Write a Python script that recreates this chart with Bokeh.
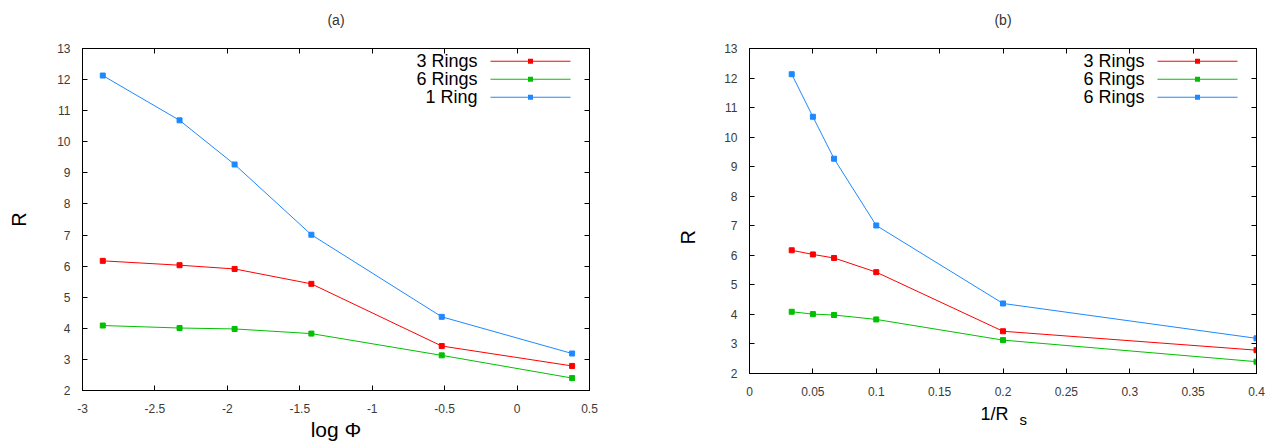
from bokeh.plotting import figure
from bokeh.layouts import row
from bokeh.models import Range1d, FixedTicker, LinearAxis, Label, BoxAnnotation, Title
from bokeh.embed import file_html
from bokeh.resources import INLINE

# ---- data ----
log_phi = [-2.86, -2.33, -1.95, -1.42, -0.52, 0.38]
inv_rs = [0.0333, 0.05, 0.0667, 0.1, 0.2, 0.4]
r_3rings = [6.17, 6.03, 5.91, 5.43, 3.43, 2.79]
r_6rings = [4.09, 4.01, 3.98, 3.83, 3.13, 2.40]
r_1ring = [12.13, 10.69, 9.27, 7.01, 4.37, 3.19]

names_a = ["3 Rings", "6 Rings", "1 Ring"]
names_b = ["3 Rings", "6 Rings", "6 Rings"]

xticks_a = [-3, -2.5, -2, -1.5, -1, -0.5, 0, 0.5]
xlabels_a = ["-3", "-2.5", "-2", "-1.5", "-1", "-0.5", "0", "0.5"]
xticks_b = [0, 0.05, 0.1, 0.15, 0.2, 0.25, 0.3, 0.35, 0.4]
xlabels_b = ["0", "0.05", "0.1", "0.15", "0.2", "0.25", "0.3", "0.35", "0.4"]
yticks = list(range(2, 14))

colors = ["#ff0000", "#00c000", "#1e88ff"]
FONT = "Liberation Sans"
FW = 507


def style_axis(ax, ticks, labels=None, show=True, standoff=12):
    ax.ticker = FixedTicker(ticks=ticks)
    if labels is not None:
        ax.major_label_overrides = {t: l for t, l in zip(ticks, labels)}
    ax.axis_line_color = "black"
    ax.axis_line_width = 1
    ax.major_tick_line_color = "black"
    ax.major_tick_in = 5
    ax.major_tick_out = 0
    ax.minor_tick_line_color = None
    ax.major_label_text_font = FONT
    ax.major_label_text_color = "#3a3a3a"
    ax.axis_label_text_font = FONT
    ax.axis_label_text_font_style = "normal"
    ax.axis_label_text_color = "black"
    if show:
        ax.major_label_text_font_size = "12px"
        ax.major_label_standoff = standoff
    else:
        ax.major_label_text_font_size = "0px"
        ax.major_label_text_alpha = 0
        ax.major_label_standoff = 0


def make_panel(xs, xr, xticks, xlabels, fh, bl, br, bb, title, names):
    p = figure(frame_width=FW, frame_height=fh, min_border_left=bl,
               min_border_right=br, min_border_top=48, min_border_bottom=bb,
               x_range=Range1d(*xr), y_range=Range1d(2, 13),
               output_backend="svg", toolbar_location=None)
    p.xgrid.visible = False
    p.ygrid.visible = False
    p.outline_line_color = "black"
    p.background_fill_color = "white"
    p.border_fill_color = "white"
    bottom = p.below[0]
    left = p.left[0]
    style_axis(bottom, xticks, xlabels, True, 13)
    style_axis(left, yticks, None, True, 12)
    top = LinearAxis(axis_label=title)
    style_axis(top, xticks, None, False)
    top.axis_label_standoff = 21
    top.axis_label_text_font_size = "14px"
    top.axis_label_text_color = "#333333"
    p.add_layout(top, "above")
    right = LinearAxis()
    style_axis(right, yticks, None, False)
    p.add_layout(right, "right")

    for ys, c in zip([r_3rings, r_6rings, r_1ring], colors):
        p.line(xs, ys, line_color=c, line_width=1)
        p.scatter(xs, ys, marker="square", size=5, fill_color=c, line_color=c)

    # legend (text on the left, sample on the right, as in gnuplot)
    for i, (nm, c) in enumerate(zip(names, colors)):
        yc = fh - 12.7 - 18 * i
        p.add_layout(Label(x=FW - 112, y=yc, x_units="screen", y_units="screen",
                           text=nm, text_align="right", text_baseline="middle",
                           text_font=FONT, text_font_size="18px", text_color="black"))
        p.add_layout(BoxAnnotation(left=FW - 99, right=FW - 19, bottom=yc - 0.5, top=yc + 0.5,
                                   left_units="screen", right_units="screen",
                                   bottom_units="screen", top_units="screen",
                                   fill_color=c, fill_alpha=1, line_color=None))
        p.add_layout(BoxAnnotation(left=FW - 61.5, right=FW - 56.5, bottom=yc - 2.5, top=yc + 2.5,
                                   left_units="screen", right_units="screen",
                                   bottom_units="screen", top_units="screen",
                                   fill_color=c, fill_alpha=1, line_color=None))
    return p, bottom, left


# ---- panel (a) ----
p1, bx1, ly1 = make_panel(log_phi, (-3, 0.5), xticks_a, xlabels_a, 342, 82, 40, 53, "(a)", names_a)
bx1.axis_label = "log Φ"
bx1.axis_label_text_font_size = "21px"
bx1.axis_label_standoff = 2
ly1.axis_label = "R"
ly1.axis_label_text_font_size = "20px"
ly1.axis_label_standoff = 24

# ---- panel (b) ----
p2, bx2, ly2 = make_panel(inv_rs, (0, 0.4), xticks_b, xlabels_b, 325, 120, 11, 70, "(b)", names_b)
p2.add_layout(Title(text="R", align="left", offset=129, vertical_align="bottom", standoff=46,
                    text_font=FONT, text_font_size="20px", text_font_style="normal",
                    text_color="black"), "left")
p2.add_layout(Title(text="1/R", align="left", offset=231, vertical_align="top", standoff=11,
                    text_font=FONT, text_font_size="18px", text_font_style="normal",
                    text_color="black"), "below")
p2.add_layout(Title(text="s", align="left", offset=270, vertical_align="top", standoff=-41,
                    text_font=FONT, text_font_size="15px", text_font_style="normal",
                    text_color="black"), "below")

layout = row(p1, p2)
open("out.html", "w").write(file_html(layout, INLINE))
